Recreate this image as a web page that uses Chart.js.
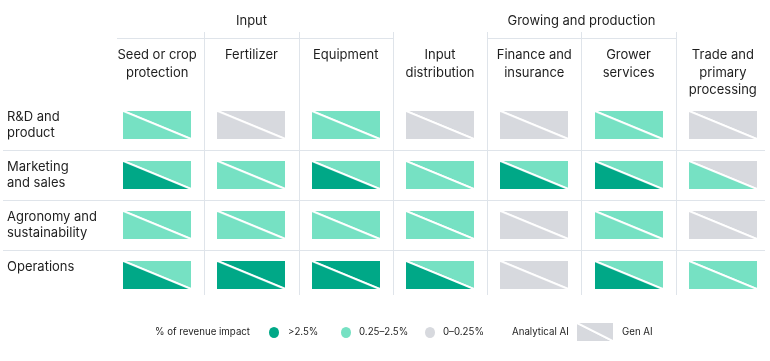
<!DOCTYPE html>
<html>
<head>
<meta charset="utf-8">
<script src="https://cdn.jsdelivr.net/npm/chart.js@4/dist/chart.umd.min.js"></script>
<style>
  body { margin: 0; background: #fff; font-family: Inter, sans-serif; color: #1e1e1e; }
  #wrap { position: relative; width: 770px; height: 361px; overflow: hidden; }
  #chart { position: absolute; left: 0; top: 0; }
  .lg { position: absolute; top: 325px; font-size: 9.7px; line-height: 14px; white-space: nowrap; }
  .dot { position: absolute; top: 327px; width: 10px; height: 11px; border-radius: 50%; }
  .icon { position: absolute; left: 577px; top: 323px; width: 36px; height: 18px; }
</style>
</head>
<body>
<div id="wrap">
  <canvas id="chart" width="770" height="361"></canvas>
  <span class="lg" style="left:155px">% of revenue impact</span>
  <span class="dot" style="left:269px;background:#00a887"></span>
  <span class="lg" style="left:288px">&gt;2.5%</span>
  <span class="dot" style="left:341px;background:#76e1c3"></span>
  <span class="lg" style="left:359px">0.25–2.5%</span>
  <span class="dot" style="left:425px;background:#d7d9de"></span>
  <span class="lg" style="left:443px">0–0.25%</span>
  <span class="lg" style="left:512px">Analytical AI</span>
  <canvas class="icon" id="icon" width="36" height="18"></canvas>
  <span class="lg" style="left:622px">Gen AI</span>
</div>
<script>
// columns (value chain steps) and rows (functions)
const columns = [
    ['Seed or crop', 'protection'],
    ['Fertilizer'],
    ['Equipment'],
    ['Input', 'distribution'],
    ['Finance and', 'insurance'],
    ['Grower', 'services'],
    ['Trade and', 'primary', 'processing']
];
const rows = [
    ['R&D and', 'product'],
    ['Marketing', 'and sales'],
    ['Agronomy and', 'sustainability'],
    ['Operations', '']
];
const groupLabels = ['Input', 'Growing and production'];
const groupFirst = [0, 4];
const groupLast = [2, 5];

// impact level: 2 = >2.5%, 1 = 0.25-2.5%, 0 = 0-0.25%
const analyticalAI = [
    [1, 0, 1, 0, 0, 1, 0],
    [2, 1, 2, 1, 2, 2, 1],
    [1, 1, 1, 1, 0, 1, 0],
    [2, 2, 2, 2, 0, 2, 1]
];
const genAI = [
    [1, 0, 1, 0, 0, 1, 0],
    [1, 1, 1, 1, 1, 1, 0],
    [1, 1, 1, 1, 0, 1, 0],
    [1, 2, 2, 1, 0, 1, 1]
];

const levelColors = ['#d7d9de', '#76e1c3', '#00a887'];
const gridColor = '#dfe4ea';
const textColor = '#1e1e1e';

// half-cell triangle used as the point style
function triangle(color, upper, w, h) {
    const c = document.createElement('canvas');
    c.width = w;
    c.height = h;
    const g = c.getContext('2d');
    g.fillStyle = color;
    g.beginPath();
    if (upper) {
        g.moveTo(0, 0); g.lineTo(w, 0); g.lineTo(w, h);
    } else {
        g.moveTo(0, 0); g.lineTo(0, h); g.lineTo(w, h);
    }
    g.closePath();
    g.fill();
    g.strokeStyle = '#fff';
    g.lineWidth = 2;
    g.beginPath();
    g.moveTo(0, 0);
    g.lineTo(w, h);
    g.stroke();
    return c;
}
const lowerShapes = levelColors.map(c => triangle(c, false, 68, 28));
const upperShapes = levelColors.map(c => triangle(c, true, 68, 28));

// legend icon
(function () {
    const g = document.getElementById('icon').getContext('2d');
    g.drawImage(triangle(levelColors[0], false, 36, 18), 0, 0);
    g.drawImage(triangle(levelColors[0], true, 36, 18), 0, 0);
})();

function toPoints(levels) {
    const pts = [];
    levels.forEach((row, r) => row.forEach((v, c) => pts.push({x: c, y: r, level: v})));
    return pts;
}

const gridPlugin = {
    id: 'cellGrid',
    beforeDatasetsDraw(chart) {
        const {ctx, chartArea, scales: {x, y}} = chart;
        const colW = x.getPixelForValue(1) - x.getPixelForValue(0);
        const rowH = y.getPixelForValue(1) - y.getPixelForValue(0);
        ctx.save();
        ctx.strokeStyle = gridColor;
        ctx.lineWidth = 1;
        // vertical separators between columns
        for (let i = 1; i < columns.length; i++) {
            const px = Math.round(x.getPixelForValue(i) - colW / 2) + 0.5;
            ctx.beginPath();
            ctx.moveTo(px, 32);
            ctx.lineTo(px, chartArea.bottom - 5);
            ctx.stroke();
        }
        // horizontal separators between rows
        for (let i = 1; i < rows.length; i++) {
            const py = Math.round(y.getPixelForValue(i) - rowH / 2) + 0.5;
            ctx.beginPath();
            ctx.moveTo(3, py);
            ctx.lineTo(765, py);
            ctx.stroke();
        }
        // group headers
        ctx.fillStyle = textColor;
        ctx.font = '13px Inter';
        ctx.textAlign = 'center';
        ctx.textBaseline = 'middle';
        groupLabels.forEach((lbl, i) => {
            const left = Math.round(x.getPixelForValue(groupFirst[i]) - colW / 2);
            const right = Math.round(x.getPixelForValue(groupLast[i]) + colW / 2);
            ctx.fillText(lbl, (left + right) / 2, 21);
            ctx.beginPath();
            ctx.moveTo(groupFirst[i] === 0 ? left + 7 : left, 38.5);
            ctx.lineTo(right + 0.5, 38.5);
            ctx.stroke();
        });
        ctx.restore();
    }
};

new Chart(document.getElementById('chart'), {
    type: 'scatter',
    data: {
        datasets: [{
            label: 'Analytical AI',
            data: toPoints(analyticalAI),
            pointStyle: ctx => lowerShapes[ctx.raw.level]
        }, {
            label: 'Gen AI',
            data: toPoints(genAI),
            pointStyle: ctx => upperShapes[ctx.raw.level]
        }]
    },
    options: {
        responsive: false,
        animation: false,
        parsing: false,
        events: [],
        layout: {autoPadding: false, padding: {left: 7, right: -1, top: 0, bottom: 61}},
        plugins: {legend: {display: false}, tooltip: {enabled: false}},
        scales: {
            x: {
                type: 'category',
                labels: columns,
                position: 'top',
                offset: true,
                grid: {display: false, drawTicks: false},
                border: {display: false},
                ticks: {
                    color: textColor,
                    font: {family: 'Inter', size: 13, lineHeight: 1.35},
                    crossAlign: 'far',
                    padding: 1,
                    maxRotation: 0,
                    autoSkip: false
                },
                afterFit: s => { s.height = 100; s.paddingLeft = 0; s.paddingRight = 0; }
            },
            y: {
                type: 'category',
                labels: rows,
                offset: true,
                grid: {display: false, drawTicks: false},
                border: {display: false},
                ticks: {
                    color: textColor,
                    font: {family: 'Inter', size: 13, lineHeight: 1.27},
                    crossAlign: 'far',
                    autoSkip: false
                },
                afterFit: s => { s.width = 103; s.paddingTop = 0; s.paddingBottom = 0; }
            }
        }
    },
    plugins: [gridPlugin]
});
</script>
</body>
</html>
